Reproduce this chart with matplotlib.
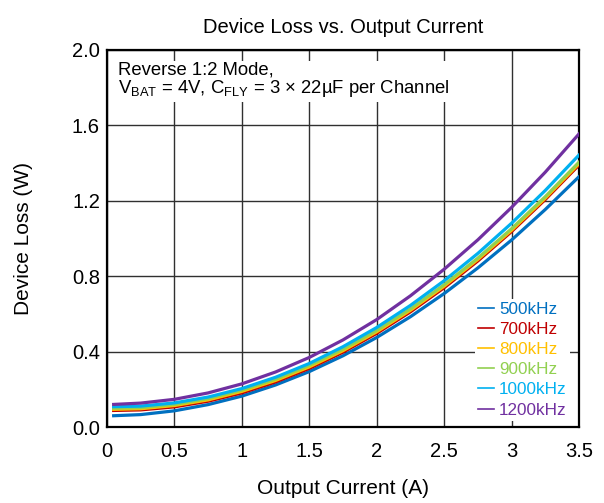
#!/usr/bin/env python

import matplotlib
matplotlib.use('Agg')
import matplotlib.pyplot as plt

plt.rcParams['font.family'] = ['Liberation Sans', 'DejaVu Sans']
plt.rcParams['mathtext.fontset'] = 'custom'
plt.rcParams['mathtext.rm'] = 'Liberation Sans'

# output current (A)
current = [0.05, 0.25, 0.5, 0.75, 1.0, 1.25, 1.5, 1.75, 2.0, 2.25, 2.5, 2.75, 3.0, 3.25, 3.5]

# device loss (W) for each switching frequency
loss_500k = [0.060, 0.066, 0.086, 0.119, 0.164, 0.223, 0.294, 0.378, 0.475, 0.585, 0.708, 0.844, 0.992, 1.154, 1.328]
loss_700k = [0.088, 0.091, 0.107, 0.137, 0.181, 0.239, 0.311, 0.397, 0.497, 0.611, 0.739, 0.881, 1.037, 1.207, 1.390]
loss_800k = [0.094, 0.097, 0.114, 0.144, 0.189, 0.247, 0.319, 0.405, 0.505, 0.619, 0.747, 0.889, 1.044, 1.214, 1.397]
loss_900k = [0.100, 0.103, 0.120, 0.151, 0.196, 0.254, 0.327, 0.413, 0.513, 0.627, 0.755, 0.896, 1.052, 1.222, 1.405]
loss_1000k = [0.108, 0.111, 0.128, 0.159, 0.204, 0.264, 0.337, 0.426, 0.528, 0.645, 0.776, 0.921, 1.081, 1.255, 1.443]
loss_1200k = [0.120, 0.127, 0.147, 0.181, 0.229, 0.292, 0.369, 0.462, 0.570, 0.696, 0.837, 0.993, 1.165, 1.352, 1.555]

labels = ['500kHz', '700kHz', '800kHz', '900kHz', '1000kHz', '1200kHz']
colors = ['#0070C0', '#C00000', '#FFC000', '#92D050', '#00B0F0', '#7030A0']

x_ticks = [0, 0.5, 1, 1.5, 2, 2.5, 3, 3.5]
x_tick_labels = ['0', '0.5', '1', '1.5', '2', '2.5', '3', '3.5']
y_ticks = [0.0, 0.4, 0.8, 1.2, 1.6, 2.0]


def main():
    fig = plt.figure(figsize=(6.04, 5.03), dpi=100)
    ax = fig.add_axes([0.177, 0.151, 0.7816, 0.7496])

    series = [loss_500k, loss_700k, loss_800k, loss_900k, loss_1000k, loss_1200k]
    for y, lab, c in zip(series, labels, colors):
        ax.plot(current, y, color=c, linewidth=2.3, label=lab, zorder=3)

    ax.set_xlim(0, 3.5)
    ax.set_ylim(0, 2.0)
    ax.set_xticks(x_ticks)
    ax.set_xticklabels(x_tick_labels)
    ax.set_yticks(y_ticks)
    ax.set_yticklabels(['%.1f' % v for v in y_ticks])
    ax.tick_params(length=0, labelsize=14.5)
    ax.tick_params(axis='x', pad=11)
    ax.tick_params(axis='y', pad=5)

    ax.grid(True, color='#303030', linewidth=1.0, zorder=1)
    ax.set_axisbelow(True)
    for s in ax.spines.values():
        s.set_linewidth(1.6)
        s.set_color('black')

    ax.set_title('Device Loss vs. Output Current', fontsize=14.5, pad=12)
    ax.set_xlabel('Output Current (A)', fontsize=15, labelpad=13)
    ax.set_ylabel('Device Loss (W)', fontsize=15, labelpad=28)

    ax.text(0.023, 0.97,
            'Reverse 1:2 Mode,\n$\\mathregular{V_{BAT}}$ = 4V, $\\mathregular{C_{FLY}}$ = 3 × 22µF per Channel',
            transform=ax.transAxes, ha='left', va='top', fontsize=13.3, linespacing=1.0,
            bbox=dict(facecolor='white', edgecolor='none', pad=2), zorder=2)

    leg = ax.legend(loc='lower right', bbox_to_anchor=(0.981, 0.016), fontsize=12.3,
                    handlelength=0.9, handletextpad=0.3, labelspacing=0.3,
                    frameon=True, fancybox=False, framealpha=1, edgecolor='none',
                    borderpad=0.2, borderaxespad=0, labelcolor='linecolor')
    for h in leg.get_lines():
        h.set_linewidth(1.2)

    plt.savefig('out.png', dpi=100)


if __name__ == "__main__":
    main()
